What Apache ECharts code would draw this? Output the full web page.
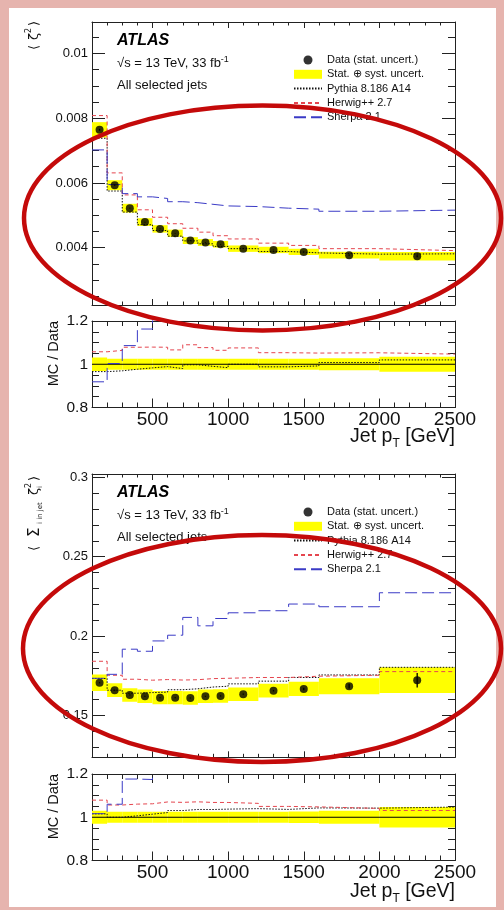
<!DOCTYPE html>
<html>
<head>
<meta charset="utf-8">
<script src="https://cdn.jsdelivr.net/npm/echarts@6/dist/echarts.min.js"></script>
<style>
  html, body { margin: 0; padding: 0; }
  #chart { width: 504px; height: 910px; }
</style>
</head>
<body>
<div id="chart"></div>
<script>
// jet pT bins [GeV]
const edges = [100, 200, 300, 400, 500, 600, 700, 800, 900, 1000, 1200, 1400, 1600, 2000, 2500];
const binCentres = [150, 250, 350, 450, 550, 650, 750, 850, 950, 1100, 1300, 1500, 1800, 2250];

// <zeta^2>
const data1 = [0.00764, 0.00593, 0.00522, 0.00479, 0.00458, 0.004445, 0.00422, 0.00416, 0.004105, 0.00397, 0.00393, 0.00387, 0.00377, 0.003735];
const stat1 = [0.00003, 0.00002, 0.00001, 0.00001, 0.00001, 0.00001, 0.00001, 0.00001, 0.00001, 0.00001, 0.00001, 0.00001, 0.00002, 0.00003];
const unc1 = [0.031, 0.026, 0.026, 0.025, 0.025, 0.025, 0.025, 0.025, 0.025, 0.025, 0.025, 0.025, 0.028, 0.035];
const pythia1 = [0.00738, 0.00575, 0.0051, 0.00471, 0.00453, 0.004356, 0.00421, 0.00412, 0.00404, 0.00397, 0.003883, 0.00384, 0.0038, 0.00381];
const herwig1 = [0.00808, 0.00631, 0.00563, 0.00517, 0.00494, 0.00474, 0.0046, 0.00448, 0.00437, 0.00427, 0.00414, 0.00407, 0.00397, 0.00391];
const sherpa1 = [0.00702, 0.00595, 0.00567, 0.00557, 0.00552, 0.00542, 0.00539, 0.00534, 0.00529, 0.00527, 0.00522, 0.00519, 0.005125, 0.00516];

// <sum_{i in jet} zeta_i^2>
const data2 = [0.1707, 0.166, 0.163, 0.1622, 0.1613, 0.1613, 0.1611, 0.1622, 0.1624, 0.1635, 0.1657, 0.1668, 0.1685, 0.1723];
const stat2 = [0.0004, 0.0003, 0.0003, 0.0003, 0.0003, 0.0003, 0.0003, 0.0003, 0.0004, 0.0004, 0.0005, 0.0008, 0.0015, 0.0046];
const unc2 = [0.03, 0.026, 0.026, 0.026, 0.026, 0.026, 0.026, 0.026, 0.026, 0.026, 0.026, 0.027, 0.03, 0.047];
const pythia2 = [0.1734, 0.166, 0.1641, 0.1645, 0.1648, 0.1663, 0.1669, 0.168, 0.1685, 0.17, 0.1717, 0.174, 0.1756, 0.1804];
const herwig2 = [0.1842, 0.1754, 0.1729, 0.1723, 0.1727, 0.1724, 0.1726, 0.1733, 0.1735, 0.174, 0.174, 0.1748, 0.1754, 0.1777];
const sherpa2 = [0.1735, 0.176, 0.1918, 0.1905, 0.197, 0.2006, 0.2118, 0.2065, 0.2111, 0.2147, 0.216, 0.2202, 0.2185, 0.2273];

// tick labels
const xMajor = [500, 1000, 1500, 2000, 2500];
const y1Major = [0.004, 0.006, 0.008, 0.01];
const y2Major = [0.15, 0.2, 0.25, 0.3];
const ratioMajor = [0.8, 1, 1.2];

const NAMES = {
  data: 'Data (stat. uncert.)',
  band: 'Stat. \u2295 syst. uncert.',
  py: 'Pythia 8.186 A14',
  hw: 'Herwig++ 2.7',
  sh: 'Sherpa 2.1'
};
const FONT = '"Liberation Sans", Arial, Helvetica, sans-serif';
const C = { py: '#111', hw: '#e5464f', sh: '#3b3bc6', band: '#ffff00', axis: '#222', text: '#111' };

// minor tick positions
const xMinor = [];
for (let v = 200; v < 2500; v += 100) if (v % 500) xMinor.push(v);
const y1Minor = [];
for (let k = 5; k <= 21; k++) if (k % 4) y1Minor.push(k * 5 / 10000);
const y2Minor = [];
for (let k = 13; k <= 30; k++) if (k % 5) y2Minor.push(k / 100);
const ratioMinor = [0.85, 0.9, 0.95, 1.05, 1.1, 1.15];

const fmt = v => String(parseFloat((+v).toFixed(6)));
const steps = vals => vals.map((v, i) => [edges[i], v]).concat([[edges[edges.length - 1], vals[vals.length - 1]]]);

const grids = [
  { left: 92, width: 363, top: 22, height: 283 },
  { left: 92, width: 363, top: 321, height: 86.5 },
  { left: 92, width: 363, top: 474, height: 283.3 },
  { left: 92, width: 363, top: 774, height: 86.5 }
];

const xAxis = [];
const yAxis = [];

function addAxes(g, yMin, yMax, yMaj, yMin_, yFont, showX, xLen) {
  const xb = { gridIndex: g, type: 'value', min: 100, max: 2500, splitLine: { show: false },
    axisLine: { onZero: false, lineStyle: { color: C.axis, width: 1 } } };
  const tick = (vals, len) => ({ inside: true, length: len, customValues: vals, lineStyle: { color: C.axis, width: 1 } });
  xAxis.push(
    Object.assign({}, xb, { position: 'bottom', axisTick: tick(xMajor, xLen[0]),
      axisLabel: { show: showX, customValues: xMajor, formatter: fmt, fontSize: 19, fontFamily: FONT, color: C.text, margin: 3 } }),
    Object.assign({}, xb, { position: 'bottom', axisLine: { show: false }, axisTick: tick(xMinor, xLen[1]), axisLabel: { show: false } }),
    Object.assign({}, xb, { position: 'top', axisTick: tick(xMajor, xLen[0]), axisLabel: { show: false } }),
    Object.assign({}, xb, { position: 'top', axisLine: { show: false }, axisTick: tick(xMinor, xLen[1]), axisLabel: { show: false } })
  );
  const yb = { gridIndex: g, type: 'value', min: yMin, max: yMax, splitLine: { show: false },
    axisLine: { onZero: false, lineStyle: { color: C.axis, width: 1 } } };
  yAxis.push(
    Object.assign({}, yb, { position: 'left', axisTick: tick(yMaj, 13),
      axisLabel: { customValues: yMaj, formatter: fmt, fontSize: yFont, fontFamily: FONT, color: C.text, margin: 4 } }),
    Object.assign({}, yb, { position: 'left', axisLine: { show: false }, axisTick: tick(yMin_, 7), axisLabel: { show: false } }),
    Object.assign({}, yb, { position: 'right', axisTick: tick(yMaj, 13), axisLabel: { show: false } }),
    Object.assign({}, yb, { position: 'right', axisLine: { show: false }, axisTick: tick(yMin_, 7), axisLabel: { show: false } })
  );
}

addAxes(0, 0.00223, 0.01097, y1Major, y1Minor, 13, false, [6, 3.5]);
addAxes(1, 0.8, 1.2, ratioMajor, ratioMinor, 15.5, true, [9, 5]);
addAxes(2, 0.1238, 0.302, y2Major, y2Minor, 13, false, [6, 3.5]);
addAxes(3, 0.8, 1.2, ratioMajor, ratioMinor, 15.5, true, [9, 5]);

function bandSeries(g, rows, name) {
  return {
    type: 'custom', name: name, xAxisIndex: g * 4, yAxisIndex: g * 4, clip: true, z: 1, silent: true,
    itemStyle: { color: C.band },
    data: rows,
    renderItem: (params, api) => {
      const p0 = api.coord([api.value(0), api.value(3)]);
      const p1 = api.coord([api.value(1), api.value(2)]);
      return { type: 'rect', shape: { x: p0[0], y: p0[1], width: p1[0] - p0[0], height: p1[1] - p0[1] },
        style: { fill: C.band } };
    }
  };
}

function stepSeries(g, name, vals, color, dash, z) {
  return {
    type: 'line', name: name, xAxisIndex: g * 4, yAxisIndex: g * 4, step: 'end', symbol: 'none',
    clip: true, z: z || 3, silent: true, data: steps(vals),
    lineStyle: { color: color, width: 1, type: dash }, itemStyle: { color: color }
  };
}

const series = [];
function addPanel(gMain, data, stat, unc, py, hw, sh) {
  const gR = gMain + 1;
  series.push(bandSeries(gMain, data.map((d, i) => [edges[i], edges[i + 1], d * (1 - unc[i]), d * (1 + unc[i])]), NAMES.band));
  series.push(stepSeries(gMain, NAMES.py, py, C.py, [1.5, 1.5]));
  series.push(stepSeries(gMain, NAMES.hw, hw, C.hw, [4, 3]));
  series.push(stepSeries(gMain, NAMES.sh, sh, C.sh, [12, 5]));
  series.push({
    type: 'custom', name: NAMES.data + ' err', xAxisIndex: gMain * 4, yAxisIndex: gMain * 4, z: 4, silent: true,
    data: binCentres.map((x, i) => [x, data[i], stat[i]]),
    renderItem: (params, api) => {
      const a = api.coord([api.value(0), api.value(1) - api.value(2)]);
      const b = api.coord([api.value(0), api.value(1) + api.value(2)]);
      return { type: 'line', shape: { x1: a[0], y1: a[1], x2: b[0], y2: b[1] }, style: { stroke: '#000', lineWidth: 1.3 } };
    }
  });
  series.push({
    type: 'scatter', name: NAMES.data, xAxisIndex: gMain * 4, yAxisIndex: gMain * 4, z: 5, silent: true,
    symbol: 'circle', symbolSize: 8, itemStyle: { color: '#000' },
    data: binCentres.map((x, i) => [x, data[i]])
  });
  // ratio pad
  series.push(bandSeries(gR, unc.map((u, i) => [edges[i], edges[i + 1], 1 - u, 1 + u]), NAMES.band));
  series.push({
    type: 'line', name: 'unity', xAxisIndex: gR * 4, yAxisIndex: gR * 4, symbol: 'none', z: 2, silent: true,
    data: [[100, 1], [2500, 1]], lineStyle: { color: '#000', width: 1 }
  });
  series.push(stepSeries(gR, NAMES.py, py.map((v, i) => v / data[i]), C.py, [1.5, 1.5]));
  series.push(stepSeries(gR, NAMES.hw, hw.map((v, i) => v / data[i]), C.hw, [4, 3]));
  series.push(stepSeries(gR, NAMES.sh, sh.map((v, i) => v / data[i]), C.sh, [12, 5]));
}
addPanel(0, data1, stat1, unc1, pythia1, herwig1, sherpa1);
addPanel(2, data2, stat2, unc2, pythia2, herwig2, sherpa2);

const panelTops = [22, 474];
// line entries: hide the marker that the line legend icon adds
const noMarker = { color: 'rgba(0,0,0,0)', borderWidth: 0, opacity: 0 };
const legendItems = [
  { name: NAMES.data, icon: 'circle', itemStyle: { color: '#000' } },
  { name: NAMES.band, icon: 'rect', itemStyle: { color: C.band } },
  { name: NAMES.py, itemStyle: noMarker },
  { name: NAMES.hw, itemStyle: noMarker },
  { name: NAMES.sh, itemStyle: noMarker }
];
const legend = panelTops.map(t => ({
  orient: 'vertical', left: 293, top: t + 32, padding: 0, itemWidth: 28, itemHeight: 9, itemGap: 2.3,
  selectedMode: false, data: legendItems,
  textStyle: { fontSize: 11, fontFamily: FONT, color: C.text, lineHeight: 12 }
}));

const graphic = [
  { type: 'rect', z: -10, shape: { x: 0, y: 0, width: 504, height: 910 }, style: { fill: '#e6b4ae' }, silent: true },
  { type: 'rect', z: -9, shape: { x: 9, y: 8, width: 487, height: 899 }, style: { fill: '#fff' }, silent: true }
];
panelTops.forEach((t, k) => {
  graphic.push(
    { type: 'text', x: 117, y: t + 19, style: { text: 'ATLAS', font: 'italic bold 16px ' + FONT, fill: '#000', verticalAlign: 'middle' } },
    { type: 'text', x: 117, y: t + 41.5, style: {
      text: '\u221As = 13 TeV, 33 fb{sup|-1}', font: '13px ' + FONT, fill: C.text, verticalAlign: 'middle',
      rich: { sup: { fontSize: 9, fontFamily: FONT, verticalAlign: 'top', lineHeight: 16, fill: C.text } } } },
    { type: 'text', x: 117, y: t + 63.5, style: { text: 'All selected jets', font: '13px ' + FONT, fill: C.text, verticalAlign: 'middle' } }
  );
});
// ratio titles and x titles
[321, 774].forEach(t => {
  graphic.push({ type: 'text', x: 53.5, y: t, rotation: Math.PI / 2,
    style: { text: 'MC / Data', font: '14.5px ' + FONT, fill: C.text, align: 'right', verticalAlign: 'middle' } });
});
[437, 892].forEach(y => {
  graphic.push({ type: 'text', x: 455, y: y, style: {
    text: 'Jet p{sub|T} [GeV]', font: '19.5px ' + FONT, fill: C.text, align: 'right', verticalAlign: 'middle',
    rich: { sub: { fontSize: 12, fontFamily: FONT, verticalAlign: 'bottom', lineHeight: 26, fill: C.text } } } });
});
// y titles of the main pads
const tFont = s => s + 'px "DejaVu Sans", ' + FONT;
graphic.push({ type: 'group', x: 35, y: 50, rotation: Math.PI / 2, children: [
  { type: 'text', x: 0, y: 0, style: { text: '\u27E8', font: tFont(13), fill: C.text, verticalAlign: 'middle' } },
  { type: 'text', x: 10, y: 0, style: { text: '\u03B6', font: tFont(13), fill: C.text, verticalAlign: 'middle' } },
  { type: 'text', x: 17, y: -6, style: { text: '2', font: tFont(8), fill: C.text, verticalAlign: 'middle' } },
  { type: 'text', x: 24, y: 0, style: { text: '\u27E9', font: tFont(13), fill: C.text, verticalAlign: 'middle' } }
] });
graphic.push({ type: 'group', x: 35, y: 551, rotation: Math.PI / 2, children: [
  { type: 'text', x: 0, y: 0, style: { text: '\u27E8', font: tFont(13), fill: C.text, verticalAlign: 'middle' } },
  { type: 'text', x: 14, y: 0, style: { text: '\u03A3', font: tFont(15), fill: C.text, verticalAlign: 'middle' } },
  { type: 'text', x: 27, y: 5, style: { text: 'i in jet', font: tFont(7), fill: C.text, verticalAlign: 'middle' } },
  { type: 'text', x: 56, y: 0, style: { text: '\u03B6', font: tFont(13), fill: C.text, verticalAlign: 'middle' } },
  { type: 'text', x: 63, y: -6, style: { text: '2', font: tFont(8), fill: C.text, verticalAlign: 'middle' } },
  { type: 'text', x: 63, y: 5, style: { text: 'i', font: tFont(7), fill: C.text, verticalAlign: 'middle' } },
  { type: 'text', x: 70, y: 0, style: { text: '\u27E9', font: tFont(13), fill: C.text, verticalAlign: 'middle' } }
] });
// red highlight ellipses
graphic.push(
  { type: 'ellipse', z: 100, silent: true, shape: { cx: 262.5, cy: 218, rx: 238.5, ry: 112.5 },
    style: { fill: 'none', stroke: '#c40a0a', lineWidth: 4.5 } },
  { type: 'ellipse', z: 100, silent: true, shape: { cx: 262, cy: 648.5, rx: 239, ry: 113.5 },
    style: { fill: 'none', stroke: '#c40a0a', lineWidth: 4.5 } }
);

const chart = echarts.init(document.getElementById('chart'));
chart.setOption({
  animation: false,
  grid: grids,
  xAxis: xAxis,
  yAxis: yAxis,
  legend: legend,
  graphic: graphic,
  series: series
});
</script>
</body>
</html>
